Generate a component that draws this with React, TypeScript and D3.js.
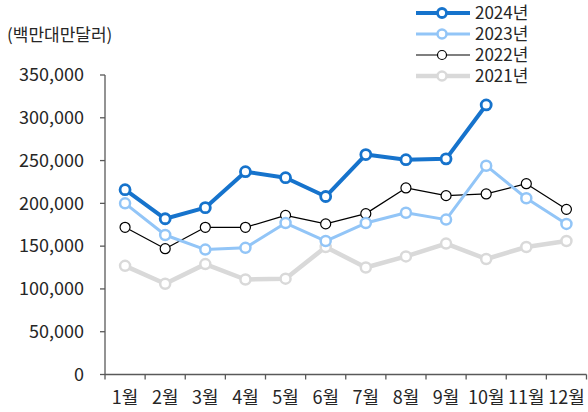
import * as d3 from 'd3';

const months = ['1월', '2월', '3월', '4월', '5월', '6월', '7월', '8월', '9월', '10월', '11월', '12월'];
const y2024 = [216000, 182000, 195000, 237000, 230000, 208000, 257000, 251000, 252000, 315000];
const y2023 = [200000, 163000, 146000, 148000, 177000, 156000, 177000, 189000, 181000, 244000, 206000, 176000];
const y2022 = [172000, 147000, 172000, 172000, 186000, 176000, 188000, 218000, 209000, 211000, 223000, 193000];
const y2021 = [127000, 106000, 129000, 111000, 112000, 149000, 125000, 138000, 153000, 135000, 149000, 156000];
const yTicks = [0, 50000, 100000, 150000, 200000, 250000, 300000, 350000];

const series = [
  { name: '2021년', values: y2021, color: '#d9d9d9', width: 4.5, mStroke: 2.5 },
  { name: '2022년', values: y2022, color: '#000000', width: 1.2, mStroke: 1.2 },
  { name: '2023년', values: y2023, color: '#92c5f7', width: 3, mStroke: 2.5 },
  { name: '2024년', values: y2024, color: '#1673cc', width: 4, mStroke: 2.8 },
];
const legendOrder = ['2024년', '2023년', '2022년', '2021년'];

const W = 588;
const H = 412;
const margin = { top: 75, right: 1.5, bottom: 37.5, left: 105 };
const font = "'Noto Sans CJK KR', 'Noto Sans', sans-serif";

export default function App() {
  const x = d3.scaleBand().domain(months).range([margin.left, W - margin.right]);
  const y = d3.scaleLinear().domain([0, 350000]).range([H - margin.bottom, margin.top]);
  const fmt = d3.format(',');
  const line = d3.line<number>()
    .x((_, i) => x(months[i])! + x.bandwidth() / 2)
    .y(d => y(d));
  const axisColor = '#595959';
  const bottom = H - margin.bottom;

  return (
    <svg width={W} height={H} style={{ position: 'absolute', left: 0, top: 0, fontFamily: font }}>
      <text x={7} y={41} fontSize={17} fill="#262626">(백만대만달러)</text>

      {/* y axis */}
      <line x1={margin.left} x2={margin.left} y1={margin.top} y2={bottom} stroke={axisColor} strokeWidth={1.3} />
      {yTicks.map(t => (
        <g key={t}>
          <line x1={margin.left - 5} x2={margin.left} y1={y(t)} y2={y(t)} stroke={axisColor} strokeWidth={1.3} />
          <text x={84} y={y(t)} dy="0.35em" textAnchor="end" fontSize={18} fill="#262626">{fmt(t)}</text>
        </g>
      ))}

      {/* x axis */}
      <line x1={margin.left} x2={W - margin.right} y1={bottom} y2={bottom} stroke={axisColor} strokeWidth={1.3} />
      {[...months.map(m => x(m)!), W - margin.right].map((px, i) => (
        <line key={i} x1={px} x2={px} y1={bottom} y2={bottom + 5} stroke={axisColor} strokeWidth={1.3} />
      ))}
      {months.map(m => (
        <text key={m} x={x(m)! + x.bandwidth() / 2} y={398} dy="0.35em" textAnchor="middle" fontSize={18} fill="#262626">{m}</text>
      ))}

      {series.map(s => (
        <g key={s.name}>
          <path d={line(s.values)!} fill="none" stroke={s.color} strokeWidth={s.width} strokeLinejoin="round" />
          {s.values.map((v, i) => (
            <circle key={i} cx={x(months[i])! + x.bandwidth() / 2} cy={y(v)} r={5} fill="#fff" stroke={s.color} strokeWidth={s.mStroke} />
          ))}
        </g>
      ))}

      {legendOrder.map((name, i) => {
        const s = series.find(d => d.name === name)!;
        const ly = 13 + i * 21;
        return (
          <g key={name}>
            <line x1={416} x2={470} y1={ly} y2={ly} stroke={s.color} strokeWidth={s.width} />
            <circle cx={442} cy={ly} r={4.5} fill="#fff" stroke={s.color} strokeWidth={s.mStroke} />
            <text x={475} y={ly} dy="0.35em" fontSize={17} fill="#262626">{name}</text>
          </g>
        );
      })}
    </svg>
  );
}
